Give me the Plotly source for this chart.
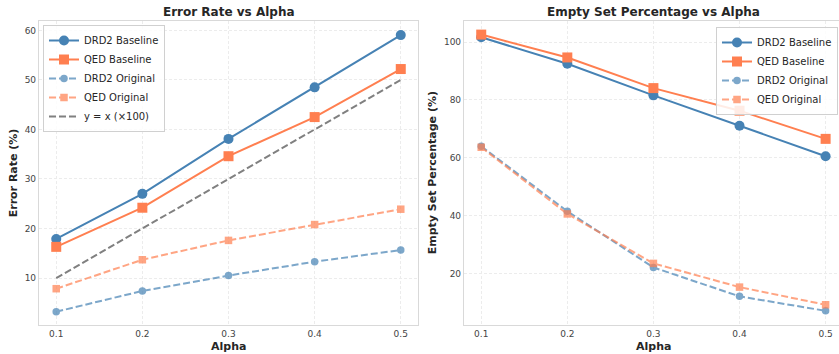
import plotly.graph_objects as go

alpha = [0.1, 0.2, 0.3, 0.4, 0.5]

# Error rate (%)
err_drd2_base = [17.9, 27.0, 38.1, 48.5, 59.05]
err_qed_base = [16.3, 24.2, 34.6, 42.5, 52.2]
err_drd2_orig = [3.2, 7.4, 10.5, 13.3, 15.65]
err_qed_orig = [7.85, 13.7, 17.6, 20.8, 23.9]
ref_line = [10, 20, 30, 40, 50]

# Empty set percentage (%)
emp_drd2_base = [101.7, 92.5, 81.6, 71.1, 60.55]
emp_qed_base = [102.6, 94.7, 84.1, 76.3, 66.55]
emp_drd2_orig = [64.0, 41.5, 22.1, 12.1, 7.1]
emp_qed_orig = [63.65, 40.6, 23.5, 15.3, 9.2]

x_ticks = [0.1, 0.2, 0.3, 0.4, 0.5]
err_ticks = [10, 20, 30, 40, 50, 60]
emp_ticks = [20, 40, 60, 80, 100]

BLUE = "#4682B4"
ORANGE = "#FF7F50"
GRAY = "#808080"
FONT = "DejaVu Sans"
W, H = 839, 354

fig = go.Figure()


def add_series(y, name, color, symbol, base, xa, ya, legend):
    if base:
        fig.add_trace(go.Scatter(
            x=alpha, y=y, name=name, mode="lines+markers",
            line=dict(color=color, width=2),
            marker=dict(color=color, symbol=symbol, size=10, line=dict(width=0)),
            xaxis=xa, yaxis=ya, legend=legend))
    else:
        fig.add_trace(go.Scatter(
            x=alpha, y=y, name=name, mode="lines+markers",
            line=dict(color=color, width=2, dash="7px,3px"),
            marker=dict(color=color, symbol=symbol, size=7.5, line=dict(width=0)),
            opacity=0.7, xaxis=xa, yaxis=ya, legend=legend))


add_series(err_drd2_base, "DRD2 Baseline", BLUE, "circle", True, "x", "y", "legend")
add_series(err_qed_base, "QED Baseline", ORANGE, "square", True, "x", "y", "legend")
add_series(err_drd2_orig, "DRD2 Original", BLUE, "circle", False, "x", "y", "legend")
add_series(err_qed_orig, "QED Original", ORANGE, "square", False, "x", "y", "legend")
fig.add_trace(go.Scatter(x=alpha, y=ref_line, name="y = x (×100)", mode="lines",
                         line=dict(color=GRAY, width=2, dash="7px,3px"),
                         xaxis="x", yaxis="y", legend="legend"))

add_series(emp_drd2_base, "DRD2 Baseline", BLUE, "circle", True, "x2", "y2", "legend2")
add_series(emp_qed_base, "QED Baseline", ORANGE, "square", True, "x2", "y2", "legend2")
add_series(emp_drd2_orig, "DRD2 Original", BLUE, "circle", False, "x2", "y2", "legend2")
add_series(emp_qed_orig, "QED Original", ORANGE, "square", False, "x2", "y2", "legend2")

ydom = [(H - 325) / H, (H - 21) / H]
common_axis = dict(showline=True, linecolor="#d9d9d9", linewidth=1.2, mirror=True,
                   showgrid=True, gridcolor="#ececec", griddash="3px,2px", gridwidth=0.8,
                   zeroline=False, ticks="", tickfont=dict(family=FONT, size=9, color="#444444"))

fig.update_layout(
    width=W, height=H,
    margin=dict(l=0, r=0, t=0, b=0),
    paper_bgcolor="white", plot_bgcolor="white",
    font=dict(family=FONT, color="#262626"),
    xaxis=dict(domain=[39 / W, 418 / W], range=[0.08, 0.52], tickvals=x_ticks,
               ticktext=[f"{v:.1f}" for v in x_ticks], anchor="y", **common_axis),
    yaxis=dict(domain=ydom, range=[0.52, 61.9], tickvals=err_ticks, anchor="x", **common_axis),
    xaxis2=dict(domain=[464 / W, 1.0], range=[0.08, 0.08 + (W - 464) / 861], tickvals=x_ticks,
                ticktext=[f"{v:.1f}" for v in x_ticks], anchor="y2", **common_axis),
    yaxis2=dict(domain=ydom, range=[2.2, 107.3], tickvals=emp_ticks, anchor="x2", **common_axis),
    legend=dict(x=43 / W, y=(H - 25) / H, xanchor="left", yanchor="top",
                bgcolor="rgba(255,255,255,0.85)", bordercolor="#d0d0d0", borderwidth=1,
                font=dict(family=FONT, size=10, color="#262626"), tracegroupgap=0,
                itemwidth=30),
    legend2=dict(x=838 / W, y=(H - 27) / H, xanchor="right", yanchor="top",
                 bgcolor="rgba(255,255,255,0.85)", bordercolor="#d0d0d0", borderwidth=1,
                 font=dict(family=FONT, size=10, color="#262626"), tracegroupgap=0,
                 itemwidth=30),
    showlegend=True,
)

annots = [
    dict(text="Error Rate vs Alpha", x=228.5 / W, y=(H - 12) / H, size=12),
    dict(text="Empty Set Percentage vs Alpha", x=653.5 / W, y=(H - 12) / H, size=12),
    dict(text="Alpha", x=228.5 / W, y=(H - 346.5) / H, size=11),
    dict(text="Alpha", x=653.5 / W, y=(H - 346.5) / H, size=11),
]
for a in annots:
    fig.add_annotation(text=a["text"], x=a["x"], y=a["y"], xref="paper", yref="paper",
                       showarrow=False, xanchor="center", yanchor="middle",
                       font=dict(family=FONT, size=a["size"], color="#262626", weight="bold"))
for txt, xp in [("Error Rate (%)", 13.3), ("Empty Set Percentage (%)", 432.3)]:
    fig.add_annotation(text=txt, x=xp / W, y=(H - 173) / H, xref="paper", yref="paper",
                       showarrow=False, xanchor="center", yanchor="middle", textangle=-90,
                       font=dict(family=FONT, size=11, color="#262626", weight="bold"))

fig.write_html("out.html")
